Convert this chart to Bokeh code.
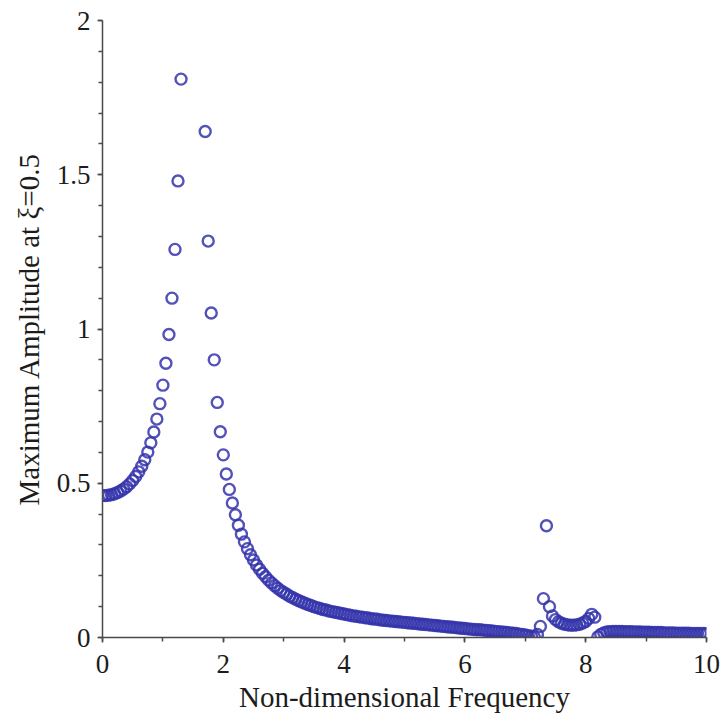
from bokeh.plotting import figure
from bokeh.models import Range1d, SingleIntervalTicker, ColumnDataSource
from bokeh.embed import file_html
from bokeh.resources import INLINE

# Sample frequencies (non-dimensional) visible in the chart
freq = [
    0.00, 0.05, 0.10, 0.15, 0.20, 0.25, 0.30, 0.35, 0.40, 0.45,
    0.50, 0.55, 0.60, 0.65, 0.70, 0.75, 0.80, 0.85, 0.90, 0.95,
    1.00, 1.05, 1.10, 1.15, 1.20, 1.25, 1.30,
    1.70, 1.75, 1.80, 1.85, 1.90, 1.95,
    2.00, 2.05, 2.10, 2.15, 2.20, 2.25, 2.30, 2.35, 2.40, 2.45,
    2.50, 2.55, 2.60, 2.65, 2.70, 2.75, 2.80, 2.85, 2.90, 2.95,
    3.00, 3.05, 3.10, 3.15, 3.20, 3.25, 3.30, 3.35, 3.40, 3.45,
    3.50, 3.55, 3.60, 3.65, 3.70, 3.75, 3.80, 3.85, 3.90, 3.95,
    4.00, 4.05, 4.10, 4.15, 4.20, 4.25, 4.30, 4.35, 4.40, 4.45,
    4.50, 4.55, 4.60, 4.65, 4.70, 4.75, 4.80, 4.85, 4.90, 4.95,
    5.00, 5.05, 5.10, 5.15, 5.20, 5.25, 5.30, 5.35, 5.40, 5.45,
    5.50, 5.55, 5.60, 5.65, 5.70, 5.75, 5.80, 5.85, 5.90, 5.95,
    6.00, 6.05, 6.10, 6.15, 6.20, 6.25, 6.30, 6.35, 6.40, 6.45,
    6.50, 6.55, 6.60, 6.65, 6.70, 6.75, 6.80, 6.85, 6.90, 6.95,
    7.00, 7.05, 7.10, 7.15, 7.20, 7.25, 7.30, 7.35, 7.40, 7.45,
    7.50, 7.55, 7.60, 7.65, 7.70, 7.75, 7.80, 7.85, 7.90, 7.95,
    8.00, 8.05, 8.10, 8.15, 8.20, 8.25, 8.30, 8.35, 8.40, 8.45,
    8.50, 8.55, 8.60, 8.65, 8.70, 8.75, 8.80, 8.85, 8.90, 8.95,
    9.00, 9.05, 9.10, 9.15, 9.20, 9.25, 9.30, 9.35, 9.40, 9.45,
    9.50, 9.55, 9.60, 9.65, 9.70, 9.75, 9.80, 9.85, 9.90, 9.95,
    10.00,
]

# Maximum amplitude at xi = 0.5
amplitude = [
    0.460, 0.460, 0.461, 0.463, 0.466, 0.470, 0.475, 0.481, 0.489, 0.498,
    0.509, 0.522, 0.537, 0.555, 0.576, 0.601, 0.631, 0.666, 0.708, 0.758,
    0.818, 0.889, 0.982, 1.100, 1.258, 1.480, 1.810,
    1.640, 1.285, 1.052, 0.900, 0.762, 0.667,
    0.592, 0.530, 0.480, 0.436, 0.398, 0.364, 0.335, 0.310, 0.288, 0.268,
    0.251, 0.235, 0.221, 0.208, 0.197, 0.186, 0.177, 0.168, 0.160, 0.152,
    0.146, 0.140, 0.134, 0.129, 0.124, 0.119, 0.115, 0.111, 0.107, 0.104,
    0.100, 0.097, 0.094, 0.091, 0.089, 0.086, 0.084, 0.082, 0.080, 0.078,
    0.076, 0.074, 0.072, 0.070, 0.069, 0.067, 0.066, 0.064, 0.063, 0.061,
    0.060, 0.059, 0.057, 0.056, 0.055, 0.054, 0.053, 0.052, 0.051, 0.050,
    0.049, 0.048, 0.047, 0.046, 0.045, 0.044, 0.043, 0.042, 0.041, 0.040,
    0.039, 0.038, 0.037, 0.036, 0.035, 0.034, 0.033, 0.032, 0.031, 0.030,
    0.029, 0.028, 0.027, 0.026, 0.025, 0.025, 0.024, 0.023, 0.022, 0.021,
    0.020, 0.019, 0.018, 0.017, 0.016, 0.015, 0.014, 0.013, 0.011, 0.010,
    0.008, 0.006, 0.004, 0.002, 0.010, 0.036, 0.126, 0.362, 0.100, 0.070,
    0.058, 0.051, 0.046, 0.043, 0.041, 0.040, 0.040, 0.041, 0.043, 0.047,
    0.052, 0.062, 0.075, 0.066, 0.002, 0.010, 0.015, 0.018, 0.019, 0.020,
    0.020, 0.020, 0.020, 0.019, 0.019, 0.019, 0.018, 0.018, 0.018, 0.017,
    0.017, 0.017, 0.016, 0.016, 0.016, 0.016, 0.015, 0.015, 0.015, 0.015,
    0.014, 0.014, 0.014, 0.014, 0.014, 0.013, 0.013, 0.013, 0.013, 0.013,
    0.012,
]

x_ticks = [0, 2, 4, 6, 8, 10]
x_tick_labels = ["0", "2", "4", "6", "8", "10"]
y_ticks = [0, 0.5, 1, 1.5, 2]
y_tick_labels = ["0", "0.5", "1", "1.5", "2"]

x_title = "Non-dimensional Frequency"
y_title = "Maximum Amplitude at \u03be=0.5"

FONT = "Liberation Serif"
TEXT = "#1c1c1c"
AXIS = "#4a4a4a"
MARK = "#3434ac"

src = ColumnDataSource(dict(x=freq, y=amplitude))

p = figure(
    width=721, height=719,
    x_range=Range1d(0, 10), y_range=Range1d(0, 2.0),
    output_backend="svg", toolbar_location=None,
    min_border_left=102, min_border_right=15,
    min_border_top=20, min_border_bottom=82,
)
p.outline_line_color = None
p.xgrid.visible = False
p.ygrid.visible = False
p.background_fill_color = "white"
p.border_fill_color = "white"

p.scatter("x", "y", source=src, marker="circle", size=11,
          fill_color=None, line_color=MARK, line_width=2.4, line_alpha=0.85)

xa = p.xaxis[0]
ya = p.yaxis[0]
xa.ticker = SingleIntervalTicker(interval=2, num_minor_ticks=2)
ya.ticker = SingleIntervalTicker(interval=0.5, num_minor_ticks=5)
xa.major_label_overrides = {t: l for t, l in zip(x_ticks, x_tick_labels)}
ya.major_label_overrides = {t: l for t, l in zip(y_ticks, y_tick_labels)}

for ax in (xa, ya):
    ax.axis_line_color = AXIS
    ax.axis_line_width = 1.5
    ax.major_tick_line_color = AXIS
    ax.minor_tick_line_color = AXIS
    ax.major_tick_line_width = 1.5
    ax.minor_tick_line_width = 1.5
    ax.major_tick_in = 0
    ax.major_tick_out = 5
    ax.minor_tick_in = 0
    ax.minor_tick_out = 4
    ax.major_label_text_font = FONT
    ax.major_label_text_font_size = "27px"
    ax.major_label_text_color = TEXT
    ax.axis_label_text_font = FONT
    ax.axis_label_text_font_size = "29px"
    ax.axis_label_text_font_style = "normal"
    ax.axis_label_text_color = TEXT

xa.axis_label = x_title
ya.axis_label = y_title
xa.major_label_standoff = 12
ya.major_label_standoff = 7
xa.axis_label_standoff = 5
ya.axis_label_standoff = 9

open("out.html", "w").write(file_html(p, INLINE))
